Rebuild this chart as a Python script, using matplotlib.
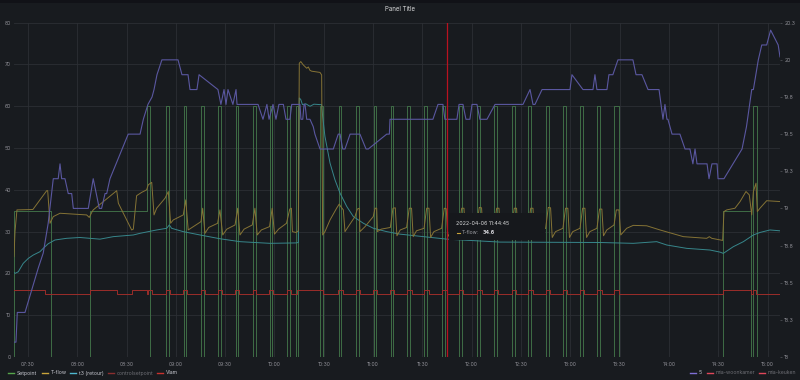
import matplotlib
matplotlib.use('Agg')
import matplotlib.pyplot as plt
import matplotlib.dates as mdates
from matplotlib.lines import Line2D
from matplotlib.patches import Rectangle
import numpy as np
import pandas as pd

plt.rcParams['font.family'] = ['Inter', 'DejaVu Sans']

BASE = pd.Timestamp('2022-04-06 07:00:00')   # times below are minutes after 07:00
X_START, X_END = 21.5, 487.6

# ---------------- data ----------------
setpoint_t = [21.2, 21.5, 44.0, 67.7, 102.4, 104.0,
              114.2, 115.8, 124.7, 126.3, 135.5, 137.1, 145.6, 147.2, 156.3, 157.9,
              166.9, 168.5, 177.0, 178.6, 187.6, 189.2, 193.1, 194.5, 207.7, 209.3,
              219.0, 220.6, 229.8, 231.4, 240.3, 241.9, 250.7, 252.3, 260.6, 262.2,
              271.2, 272.8, 281.9, 283.5, 292.5, 294.1, 303.2, 304.8, 313.8, 315.4,
              324.5, 326.1, 334.5, 336.1, 345.2, 346.8, 355.7, 357.3, 366.1, 367.7,
              376.4, 378.0, 386.6, 389.6, 452.9, 470.0, 471.2, 473.6, 487.6]
setpoint_v = [0, 35, 0, 35, 60, 0,
              60, 0, 60, 0, 60, 0, 60, 0, 60, 0,
              60, 0, 60, 0, 60, 0, 60, 0, 60, 0,
              60, 0, 60, 0, 60, 0, 60, 0, 60, 0,
              60, 0, 60, 0, 60, 0, 60, 0, 60, 0,
              60, 0, 60, 0, 60, 0, 60, 0, 60, 0,
              60, 0, 60, 0, 35, 0, 60, 0, 0]

tflow_t = [21.5, 22.1, 23.3, 33.0, 41.4, 42.0, 43.4, 45.4, 49.5, 65.7, 67.3, 68.8, 69.7,
           84.0, 85.0, 93.1, 94.1, 96.1, 99.2, 102.2, 103.2, 105.3, 106.7, 108.3, 113.4,
           115.4, 116.8, 118.4, 122.5, 124.5, 126.0, 127.5, 130.6, 135.3, 136.3, 137.7,
           140.0, 145.4, 146.8, 148.5, 151.0, 156.0, 157.6, 159.0, 161.5, 166.5, 168.1,
           169.5, 172.0, 177.0, 178.6, 180.0, 182.5, 187.3, 189.3, 190.3, 190.9, 193.1,
           194.5, 195.1, 196.0, 197.5, 199.6, 200.6, 201.6, 202.6, 207.7, 208.7, 209.3,
           210.7, 213.8, 217.8, 219.4, 220.3, 221.9, 222.9, 224.9, 229.0, 230.4, 231.6,
           232.0, 235.1, 240.1, 241.2, 242.2, 242.6, 245.0,
           250.5, 252.1, 253.5, 254.5, 256.5,
           260.4, 262.0, 263.4, 264.4, 266.4,
           271.0, 272.6, 274.0, 275.0, 277.0,
           281.7, 283.3, 284.5, 285.5, 287.5,
           292.3, 293.9, 295.3, 296.3, 298.3,
           303.0, 304.6, 306.0, 307.0, 309.0,
           313.6, 315.2, 316.6, 317.6, 319.6,
           324.3, 325.9, 327.3, 328.3, 330.3,
           334.3, 335.9, 337.3, 338.3, 340.3,
           345.0, 346.6, 348.0, 349.0, 351.0,
           355.5, 357.1, 358.5, 359.5, 361.5,
           365.9, 367.5, 368.9, 369.9, 371.9,
           376.2, 377.8, 379.2, 380.2, 382.2,
           386.6, 388.0, 389.6, 390.7, 394.3,
           398.3, 406.5, 414.6, 428.8, 443.0, 444.6, 446.1, 452.7, 453.5, 455.2, 460.2,
           463.3, 466.9, 468.9, 470.4, 471.4, 473.0, 473.8, 475.4, 479.5, 487.6]
tflow_v = [24.0, 30.0, 35.2, 35.3, 39.8, 39.8, 32.0, 33.6, 34.4, 34.0, 33.4, 34.6, 35.2,
           39.8, 36.8, 30.4, 30.6, 38.6, 39.4, 40.0, 41.2, 41.8, 34.0, 35.6, 38.0,
           39.6, 32.0, 32.8, 33.6, 34.0, 37.6, 30.4, 31.2, 32.4, 35.6, 29.6,
           31.0, 32.0, 35.2, 29.2, 30.6, 31.6, 35.6, 29.2, 30.6, 31.6, 35.6,
           29.2, 30.4, 31.2, 35.6, 29.4, 30.6, 32.0, 35.4, 35.6, 30.0, 29.8,
           30.2, 70.3, 70.7, 69.9, 69.1, 69.4, 68.6, 68.4, 68.1, 67.5, 29.2,
           30.0, 32.8, 35.6, 36.6, 36.0, 35.2, 30.0, 31.2, 33.6, 35.4, 35.6,
           30.0, 31.2, 33.6, 35.6, 35.6, 30.0, 30.6,
           31.0, 35.6, 35.7, 29.0, 30.4,
           31.0, 35.6, 35.6, 28.8, 30.2,
           30.8, 35.6, 35.6, 28.6, 30.0,
           30.8, 35.6, 35.5, 28.8, 30.2,
           31.0, 35.6, 35.6, 28.8, 30.2,
           31.0, 35.8, 35.7, 28.8, 30.2,
           31.0, 35.6, 35.6, 28.6, 30.0,
           30.8, 35.6, 35.6, 28.6, 30.0,
           30.8, 35.6, 35.6, 28.6, 30.0,
           30.8, 35.8, 35.7, 28.6, 30.0,
           30.8, 35.6, 35.6, 28.6, 30.0,
           30.8, 35.6, 35.6, 28.6, 30.0,
           30.8, 35.4, 35.4, 29.0, 30.4,
           31.6, 35.2, 35.2, 29.2, 30.8,
           31.5, 31.4, 30.4, 28.8, 28.4, 28.8, 28.4, 27.9, 34.8, 35.2, 35.6,
           37.2, 39.6, 38.8, 34.0, 39.6, 41.6, 34.8, 35.6, 37.4, 37.2]

t3_t = [21.1, 22.1, 24.1, 27.1, 30.2, 33.2, 37.3, 39.3, 42.3, 46.4, 53.5, 61.6, 73.8,
        81.9, 94.1, 98.2, 108.3, 114.4, 116.0, 117.4, 124.5, 134.7, 146.8, 159.0,
        177.3, 193.1, 194.5, 195.1, 196.0, 197.0, 199.0, 201.6, 204.0, 207.7, 208.7,
        209.3, 210.7, 213.8, 216.8, 219.9, 224.0, 228.0, 234.1, 240.2, 248.3, 256.4,
        285.0, 317.2, 378.1, 398.3, 412.6, 418.7, 430.8, 445.0, 451.1, 453.1, 459.2,
        465.3, 471.4, 475.4, 481.5, 487.6]
t3_v = [20.4, 20.0, 20.4, 22.4, 23.6, 24.4, 25.2, 26.0, 27.1, 28.0, 28.4, 28.6, 28.2,
        28.8, 29.2, 29.6, 30.4, 30.8, 31.6, 30.8, 30.0, 29.2, 28.3, 27.6,
        27.2, 27.3, 27.4, 62.0, 61.6, 60.4, 60.6, 60.0, 60.5, 60.4, 60.4,
        57.6, 52.8, 46.4, 42.4, 39.2, 36.0, 33.6, 32.0, 30.8, 30.0, 29.4,
        28.2, 27.5, 27.4, 27.2, 27.6, 26.8, 26.0, 25.6, 25.1, 24.8, 26.4,
        27.6, 29.2, 29.8, 30.4, 30.2]

vlam_t = [20.9, 40.3, 67.7, 84.2, 93.3, 102.4, 103.2, 105.3,
          114.0, 116.4, 124.5, 126.8, 135.3, 137.6, 145.4, 147.9, 156.1, 158.5,
          166.7, 169.0, 176.8, 179.3, 187.4, 189.8, 194.0, 209.5,
          218.8, 221.5, 229.6, 232.0, 240.1, 242.5, 250.5, 252.9, 260.4, 263.4,
          271.0, 274.0, 281.7, 284.7, 292.3, 294.8, 303.0, 306.0, 313.6, 316.1,
          324.3, 327.0, 334.3, 337.3, 345.0, 347.7, 355.5, 358.0, 365.9, 368.4,
          376.2, 379.1, 386.6, 389.6, 452.9, 470.0, 471.2, 473.0, 487.6]
vlam_v = [16, 15, 16, 15, 16, 15, 16, 15,
          16, 15, 16, 15, 16, 15, 16, 15, 16, 15,
          16, 15, 16, 15, 16, 15, 16, 15,
          16, 15, 16, 15, 16, 15, 16, 15, 16, 15,
          16, 15, 16, 15, 16, 15, 16, 15, 16, 15,
          16, 15, 16, 15, 16, 15, 16, 15, 16, 15,
          16, 15, 16, 15, 16, 15, 16, 15, 15]

s5_t = [21.5, 22.7, 23.5, 28.2, 36.3, 39.3, 42.3, 45.4, 48.4, 49.5, 50.5, 52.5, 54.5,
        56.6, 57.6, 66.7, 69.7, 73.4, 74.8, 76.9, 77.9, 79.9, 91.0, 98.2, 100.2,
        103.0, 105.5, 106.7, 108.5, 111.5, 121.3, 123.7, 127.4, 128.6, 132.8, 134.1,
        145.6, 147.4, 149.3, 150.5, 151.7, 154.7, 156.6, 157.2, 166.3, 170.0, 173.0,
        175.4, 176.7, 179.1, 180.9, 182.7, 185.4, 187.0, 189.4, 190.5, 195.5, 196.1,
        197.2, 198.0, 198.6, 199.6, 201.6, 203.6, 204.6, 207.7, 215.8, 218.8, 219.9,
        221.5, 222.9, 226.0, 232.0, 235.7, 237.1, 248.3, 249.9, 250.3, 276.4, 279.5,
        282.5, 283.7, 291.0, 292.3, 294.7, 296.5, 298.9, 300.2, 303.2, 305.0, 309.3,
        314.2, 331.2, 335.5, 337.3, 338.5, 342.8, 359.8, 361.0, 367.7, 373.8, 375.0,
        376.2, 382.3, 383.5, 385.9, 389.0, 398.1, 400.0, 403.6, 407.3, 414.0, 416.4,
        417.6, 418.8, 419.4, 421.9, 426.7, 429.8, 432.8, 434.6, 435.9, 437.1, 443.2,
        444.4, 446.2, 449.3, 449.9, 453.5, 464.5, 467.2, 470.4, 471.4, 474.4, 476.5,
        479.5, 481.9, 486.5, 487.6]
s5_v = [18.1, 18.1, 18.3, 18.3, 18.6, 18.7, 18.9, 19.2, 19.2, 19.3, 19.2, 19.2, 19.1,
        19.1, 19.0, 19.0, 19.2, 19.0, 19.0, 19.1, 19.1, 19.2, 19.5, 19.5, 19.6,
        19.7, 19.75, 19.8, 19.9, 20.0, 20.0, 19.9, 19.9, 19.8, 19.8, 19.9,
        19.8, 19.7, 19.8, 19.7, 19.8, 19.7, 19.8, 19.7, 19.7, 19.7, 19.6,
        19.7, 19.6, 19.7, 19.6, 19.7, 19.7, 19.6, 19.6, 19.7, 19.7, 19.6,
        19.6, 19.7, 19.7, 19.6, 19.6, 19.55, 19.5, 19.4, 19.4, 19.5, 19.5,
        19.4, 19.4, 19.5, 19.5, 19.4, 19.4, 19.5, 19.5, 19.6, 19.6, 19.7,
        19.7, 19.6, 19.6, 19.7, 19.7, 19.6, 19.6, 19.7, 19.7, 19.6, 19.6,
        19.7, 19.7, 19.8, 19.7, 19.7, 19.8, 19.8, 19.9, 19.8, 19.8, 19.9,
        19.8, 19.8, 19.9, 19.9, 20.0, 20.0, 19.9, 19.9, 19.8, 19.8, 19.6,
        19.7, 19.6, 19.6, 19.5, 19.5, 19.4, 19.4, 19.3, 19.4, 19.3, 19.3,
        19.2, 19.3, 19.3, 19.2, 19.2, 19.4, 19.55, 19.8, 19.8, 20.0, 20.1,
        20.1, 20.2, 20.1, 20.02]

cursor_time = 284.75          # 11:44:45
tooltip_title = '2022-04-06 11:44:45'
tooltip_series = 'T-flow:'
tooltip_value = '34.6'

left_ticks = [0, 10, 20, 30, 40, 50, 60, 70, 80]
right_ticks = [18, 18.25, 18.5, 18.75, 19, 19.25, 19.5, 19.75, 20, 20.25]
right_labels = ['18', '18.3', '18.5', '18.8', '19', '19.3', '19.5', '19.8', '20', '20.3']

legend_left = [('Setpoint', '#56a64b', True), ('T-flow', '#c9a43a', True),
               ('t3 (retour)', '#4fb8cf', True), ('controlsetpoint', '#8a2f2f', False),
               ('Vlam', '#c8322e', True)]
legend_right = [('5', '#7f6fd6', True), ('mia-woonkamer', '#e0475a', False),
                ('mia-keuken', '#e0475a', False)]

# ---------------- drawing ----------------
def to_dt(mins):
    return BASE + pd.to_timedelta(np.asarray(mins, dtype=float), unit='m')

W, H = 800, 380
BG = '#181b1f'
GRID = '#2c2f34'
TXT = '#8e8e95'

fig = plt.figure(figsize=(W / 100, H / 100), dpi=100, facecolor=BG)
fig.add_artist(Rectangle((0, 1 - 3 / H), 1, 3 / H, transform=fig.transFigure,
                         facecolor='#111217', edgecolor='none'))

ax = fig.add_axes([14 / W, 1 - 357 / H, (780 - 14) / W, (357 - 22.7) / H])
ax.set_facecolor(BG)
ax2 = ax.twinx()

lw = 0.7
ax.plot(to_dt(setpoint_t), setpoint_v, drawstyle='steps-post', color='#3f6d46', lw=lw)
ax.plot(to_dt(vlam_t), vlam_v, drawstyle='steps-post', color='#9c2d2a', lw=lw)
ax.plot(to_dt(t3_t), t3_v, color='#37868b', lw=lw)
ax.plot(to_dt(tflow_t), tflow_v, color='#857335', lw=lw)
ax2.plot(to_dt(s5_t), s5_v, color='#5a57a0', lw=lw + 0.1)

ax.set_xlim(to_dt([X_START])[0], to_dt([X_END])[0])
ax.set_ylim(0, 80)
ax2.set_ylim(18, 20.25)

ax.set_yticks(left_ticks)
ax2.set_yticks(right_ticks)
ax2.set_yticklabels(right_labels)
ax.xaxis.set_major_locator(mdates.MinuteLocator(byminute=[0, 30]))
ax.xaxis.set_major_formatter(mdates.DateFormatter('%H:%M'))

ax.grid(True, color=GRID, lw=0.6)
ax.set_axisbelow(True)
for a in (ax, ax2):
    for s in a.spines.values():
        s.set_visible(False)
ax.tick_params(axis='both', length=0, labelsize=3.7, colors=TXT)
ax.tick_params(axis='y', pad=2)
ax.tick_params(axis='x', pad=3.5)
ax2.tick_params(axis='y', length=1.5, width=0.5, color='#55585e', labelsize=3.7,
                colors=TXT, pad=1.5)

# cursor line
ax2.axvline(to_dt([cursor_time])[0], color='#b8121f', lw=0.9)

# title
fig.text(0.5, 1 - 9 / H, 'Panel Title', ha='center', va='center', fontsize=4.4,
         color='#d8d9da')

# tooltip
fig.add_artist(Rectangle((449 / W, 1 - 240 / H), 96 / W, 27 / H, transform=fig.transFigure,
                         facecolor='#16181c', edgecolor='none', zorder=5))
fig.text(456 / W, 1 - 223 / H, tooltip_title, fontsize=3.8, color='#d8d9da',
         va='center', zorder=6)
fig.add_artist(Line2D([456.5 / W, 460 / W], [1 - 233 / H] * 2, color='#c9a43a', lw=0.8,
                      transform=fig.transFigure, zorder=6))
fig.text(461.5 / W, 1 - 233 / H, tooltip_series, fontsize=3.6, color='#9fa0a6',
         va='center', zorder=6)
fig.text(483 / W, 1 - 233 / H, tooltip_value, fontsize=3.8, color='#e0e0e6',
         va='center', fontweight='bold', zorder=6)

# legend
def legend_item(x, label, color, active):
    y = 1 - 373 / H
    fig.add_artist(Line2D([x / W, (x + 6) / W], [y, y], color=color, lw=1.0,
                          transform=fig.transFigure))
    fig.text((x + 9) / W, y, label, fontsize=3.7, va='center',
             color='#c7c8d0' if active else '#6e6f75')

for (lab, col, act), x in zip(legend_left, [8, 42, 70, 108, 157]):
    legend_item(x, lab, col, act)
for (lab, col, act), x in zip(legend_right, [690, 707, 759]):
    legend_item(x, lab, col, act)

fig.savefig('out.png', dpi=100, facecolor=BG)
